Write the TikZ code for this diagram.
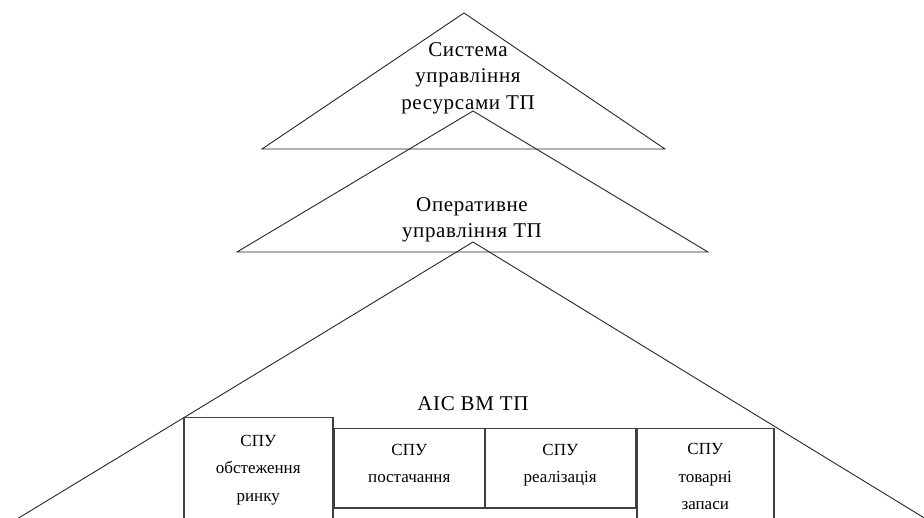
\documentclass[tikz,border=0pt]{standalone}
\usepackage{fontspec}
\setmainfont{Liberation Serif}
\newfontfamily\spaced[LetterSpace=3]{Liberation Serif}
\tikzset{
  side/.style={line width=0.9pt, draw=black!85},
  spu/.style={draw=black!75, line width=1.5pt, anchor=north west, align=center, inner sep=0pt},
  caption/.style={align=center, inner sep=0pt, font=\spaced\fontsize{21}{26.5}\selectfont}
}
\begin{document}
\begin{tikzpicture}[x=1pt, y=-1pt, font=\fontsize{17}{27.5}\selectfont]
  \useasboundingbox (0,0) rectangle (924,518);

  % Triangles
  \coordinate (T1) at (464,13);
  \coordinate (L1) at (262,149);
  \coordinate (R1) at (665,149);
  \draw[side] (T1) -- (R1) -- (L1) -- cycle;

  \coordinate (T2) at (473,111);
  \coordinate (L2) at (237,252);
  \coordinate (R2) at (708,252);
  \draw[side] (T2) -- (R2) -- (L2) -- cycle;

  \coordinate (T3) at (473,242);
  \coordinate (L3) at (17,519);
  \coordinate (R3) at (926,519);
  \draw[side] (L3) -- (T3) -- (R3);

  % Labels
  \node[caption] (resources) at (468,78) {Система\\управління\\ресурсами ТП};
  \node[caption] (operative) at (472,220) {Оперативне\\управління ТП};
  \node[caption] (ais) at (473,404) {АІС ВМ ТП};

  % Subsystems
  \node[spu, minimum width=149pt, minimum height=104pt] (market) at (183,417) {СПУ\\обстеження\\ринку};
  \node[spu, minimum width=151pt, minimum height=79pt,
        label={[align=center, yshift=5pt]center:СПУ\\постачання}] (supply) at (333,428) {};
  \node[spu, minimum width=151pt, minimum height=79pt,
        label={[align=center, yshift=3pt]center:СПУ\\реалізація}] (sales) at (484,428) {};
  \node[spu, minimum width=137pt, minimum height=96pt] (stock) at (636,428) {СПУ\\товарні\\запаси};
\end{tikzpicture}
\end{document}
